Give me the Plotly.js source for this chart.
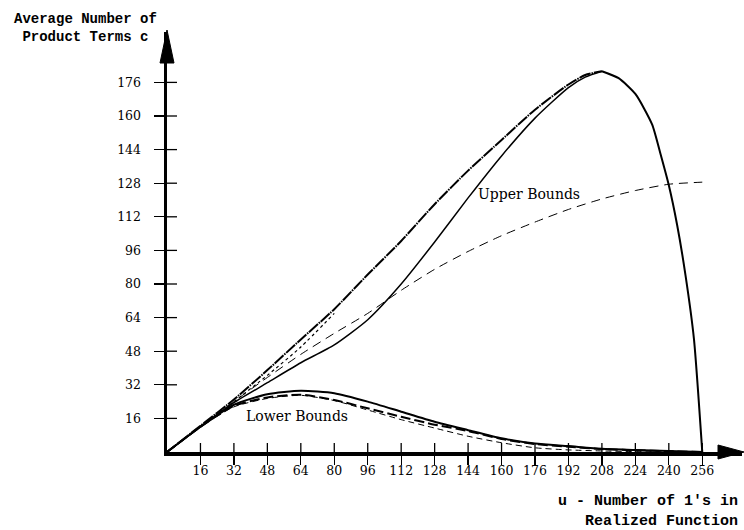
<!DOCTYPE html>
<html>
<head>
<meta charset="utf-8">
<script src="https://cdn.plot.ly/plotly-3.0.1.min.js"></script>
<style>html,body{margin:0;padding:0;background:#fff;}#chart{width:744px;height:530px;}</style>
</head>
<body>
<div id="chart"></div>
<script>
// u values (number of 1's)
const u = [0,16,32,48,64,80,96,112,128,144,160,176,192,200,208];
const uFull = [0,16,32,48,64,80,96,112,128,144,160,176,192,208,224,240,256];
const uTail = [208,216,224,232,236,240,244,248,252,256];
const uDot = [0,16,32,48,64,80];

// Upper bounds
const upperHeavy = [0,12.5,25,39,53.6,68,84.5,100.5,118,134,148.6,163,175,179.5,181.3];
const upperSolid = [0,12,23.5,33,42.5,51,63,80,100,121,141,159,173.5,178.5,181.3];
const upperTail = [181.3,178,170.5,156,142,127,108,84,54,0];
const upperDashed = [0,12,24,35.5,46.5,56.5,66,77,87,95.5,103,109.5,115.5,120.5,124.5,127.5,128.5];
const upperDotted = [0,12,24,36.5,50,66];

// Lower bounds
const lowerSolid = [0,12,22.5,27.5,29.2,28,24,19.2,14.4,10.4,6.5,4,2.8,1.5,1,0.5,0];
const lowerHeavyDash = [0,12,22,26,27.3,24.8,20.8,16.8,13,10,6.2,3.8,2.5,1.4,0.8,0.4,0];
const lowerThinDash = [0,12,21.5,25.5,27,24.5,20,15.4,11.4,7.5,4.4,2,1,0.5,0.2,0.1,0];

const xTicks = [16,32,48,64,80,96,112,128,144,160,176,192,208,224,240,256];
const yTicks = [16,32,48,64,80,96,112,128,144,160,176];

const blk = '#000';
function tr(x, y, width, dash) {
  return {x: x, y: y, type: 'scatter', mode: 'lines',
    line: {color: blk, width: width, dash: dash, shape: 'spline', smoothing: 0.6},
    hoverinfo: 'skip', showlegend: false, cliponaxis: false};
}

const data = [
  tr(u, upperHeavy, 2, '12px,1px,1.5px,1px'),
  tr(uDot, upperDotted, 1.2, 'dot'),
  tr(u, upperSolid, 1.5, 'solid'),
  tr(uTail, upperTail, 2, 'solid'),
  tr(uFull, upperDashed, 1, '9px,6px'),
  tr(uFull, lowerSolid, 2, 'solid'),
  tr(uFull, lowerHeavyDash, 2, '10px,4px'),
  tr(uFull, lowerThinDash, 1, '6px,4px')
];

const tickFont = {family: 'DejaVu Serif', size: 12.5, color: blk};
const monoFont = {family: 'Liberation Mono', size: 14, color: blk};

// inner halves of the crossing tick marks
const tickShapes = [];
xTicks.forEach(function (t) {
  tickShapes.push({type: 'line', xref: 'x', yref: 'y', ysizemode: 'pixel', yanchor: 0, x0: t, x1: t, y0: 0, y1: 9,
    line: {color: blk, width: 1.3}});
});
yTicks.forEach(function (t) {
  tickShapes.push({type: 'line', xref: 'x', yref: 'y', xsizemode: 'pixel', xanchor: 0, y0: t, y1: t, x0: 0, x1: 10,
    line: {color: blk, width: 1.3}});
});

const layout = {
  width: 744, height: 530,
  margin: {l: 167, r: 2, t: 32, b: 77.5},
  paper_bgcolor: '#fff', plot_bgcolor: '#fff',
  showlegend: false,
  xaxis: {range: [0, 275], tickvals: xTicks, ticktext: xTicks.map(String), ticks: 'outside', ticklen: 9, tickwidth: 1.3, tickcolor: blk,
    showline: true, linewidth: 3.5, linecolor: blk, showgrid: false, zeroline: false, tickfont: tickFont, ticklabelstandoff: -5, fixedrange: true},
  yaxis: {range: [0, 200], tickvals: yTicks, ticktext: yTicks.map(String), ticks: 'outside', ticklen: 10, tickwidth: 1.3, tickcolor: blk,
    showline: true, linewidth: 3.5, linecolor: blk, showgrid: false, zeroline: false, tickfont: tickFont, ticklabelstandoff: 10, fixedrange: true},
  shapes: tickShapes.concat([
    {type: 'path', xref: 'paper', yref: 'paper', xsizemode: 'pixel', ysizemode: 'pixel', xanchor: 0, yanchor: 1,
      path: 'M-7,-31 L0,2 L7,-31 Z', fillcolor: blk, line: {color: blk, width: 1}},
    {type: 'path', xref: 'paper', yref: 'paper', xsizemode: 'pixel', ysizemode: 'pixel', xanchor: 1, yanchor: 0,
      path: 'M-24,-7 L2,0 L-24,7 Z', fillcolor: blk, line: {color: blk, width: 1}}
  ]),
  annotations: [
    {text: '<b>Average Number of</b><br><b>Product Terms c</b>', xref: 'paper', yref: 'paper', x: -0.1417, y: 1.009,
      xanchor: 'center', yanchor: 'middle', align: 'center', showarrow: false, font: monoFont},
    {text: '<b>u - Number of 1\'s in</b><br><b>Realized Function</b>', xref: 'paper', yref: 'paper', x: 0.996, y: -0.142,
      xanchor: 'right', yanchor: 'middle', align: 'right', showarrow: false, font: {family: 'Liberation Mono', size: 15, color: blk}},
    {text: 'Lower Bounds', xref: 'x', yref: 'y', x: 62.1, y: 17.3, showarrow: false,
      font: {family: 'DejaVu Serif', size: 14, color: blk}},
    {text: 'Upper Bounds', xref: 'x', yref: 'y', x: 173.3, y: 122.7, showarrow: false,
      font: {family: 'DejaVu Serif', size: 14, color: blk}}
  ]
};

Plotly.newPlot('chart', data, layout, {displayModeBar: false, staticPlot: true});
</script>
</body>
</html>
